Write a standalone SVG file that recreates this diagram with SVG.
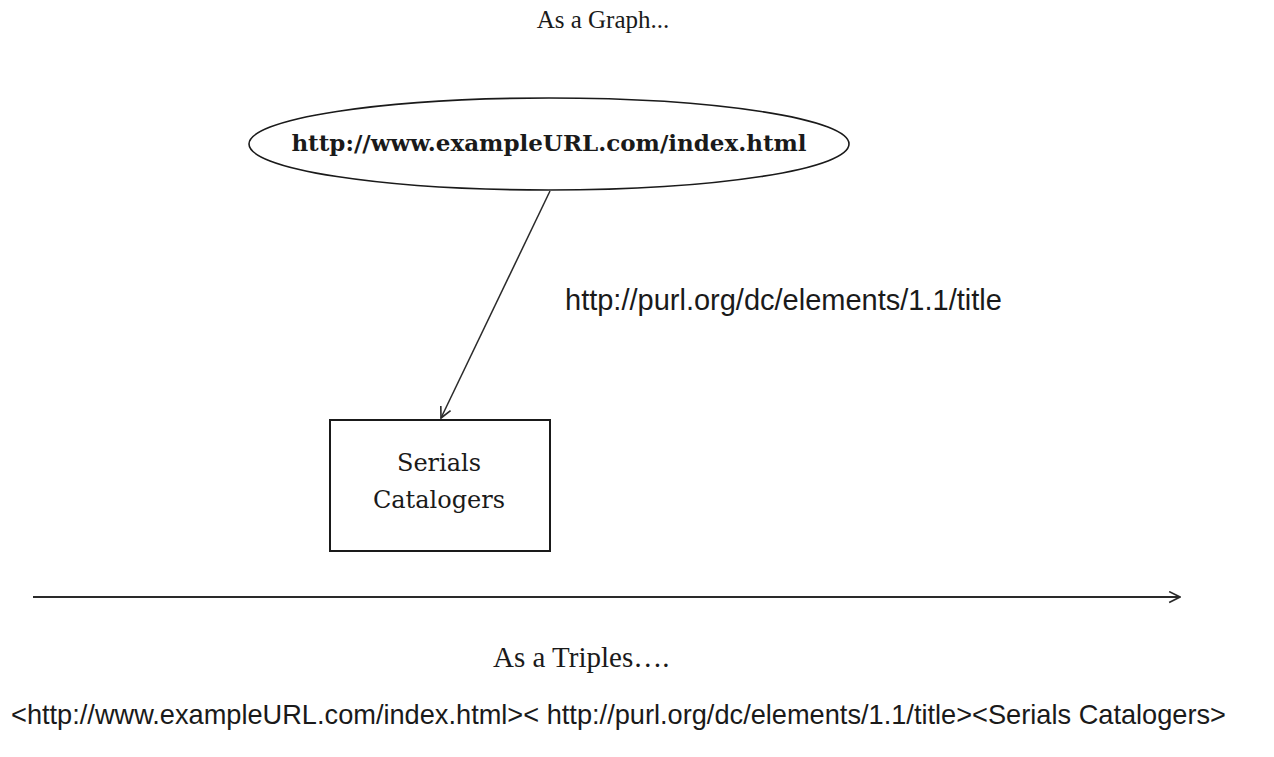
<svg xmlns="http://www.w3.org/2000/svg" width="1274" height="757" viewBox="0 0 1274 757">
  <style>
    .times { font-family: "Liberation Serif", "Times New Roman", serif; fill: #1a1a1a; }
    .cambria { font-family: "DejaVu Serif", "Liberation Serif", serif; fill: #1a1a1a; }
    .calibri { font-family: "Liberation Sans", Arial, sans-serif; fill: #1a1a1a; }
    .shape { fill: #ffffff; stroke: #1a1a1a; }
    .conn { fill: none; stroke: #2a2a2a; }
  </style>
  <defs>
    <marker id="open" viewBox="0 0 12 12" refX="11" refY="6" markerWidth="13" markerHeight="13" markerUnits="userSpaceOnUse" orient="auto">
      <path d="M1,1 L11,6 L1,11" fill="none" stroke="#2a2a2a" stroke-width="1.5"/>
    </marker>
  </defs>
  <rect width="1274" height="757" fill="#ffffff"/>

  <text id="title-graph" class="times" x="603" y="28" font-size="25" text-anchor="middle">As a Graph...</text>

  <g id="connectors">
    <line class="conn" x1="550" y1="191" x2="441" y2="418" stroke-width="1.5" marker-end="url(#open)"/>
    <line class="conn" x1="33" y1="597" x2="1180" y2="597" stroke-width="2" marker-end="url(#open)"/>
  </g>

  <g id="node-subject">
    <ellipse class="shape" cx="549" cy="144" rx="300" ry="46" stroke-width="1.6"/>
    <text class="cambria" x="549" y="151" font-size="23" font-weight="bold" text-anchor="middle">http://www.exampleURL.com/index.html</text>
  </g>

  <text id="predicate-label" class="calibri" x="565" y="310" font-size="29">http://purl.org/dc/elements/1.1/title</text>

  <g id="node-object">
    <rect class="shape" x="330" y="420" width="220" height="131" stroke-width="2"/>
    <text class="cambria" x="439" y="471" font-size="24" text-anchor="middle">Serials</text>
    <text class="cambria" x="439" y="508" font-size="24" text-anchor="middle">Catalogers</text>
  </g>

  <text id="title-triples" class="times" x="493" y="667" font-size="29">As a Triples….</text>

  <text id="triple" class="calibri" x="11" y="724" font-size="27.2">&lt;http://www.exampleURL.com/index.html&gt;&lt; http://purl.org/dc/elements/1.1/title&gt;&lt;Serials Catalogers&gt;</text>
</svg>
